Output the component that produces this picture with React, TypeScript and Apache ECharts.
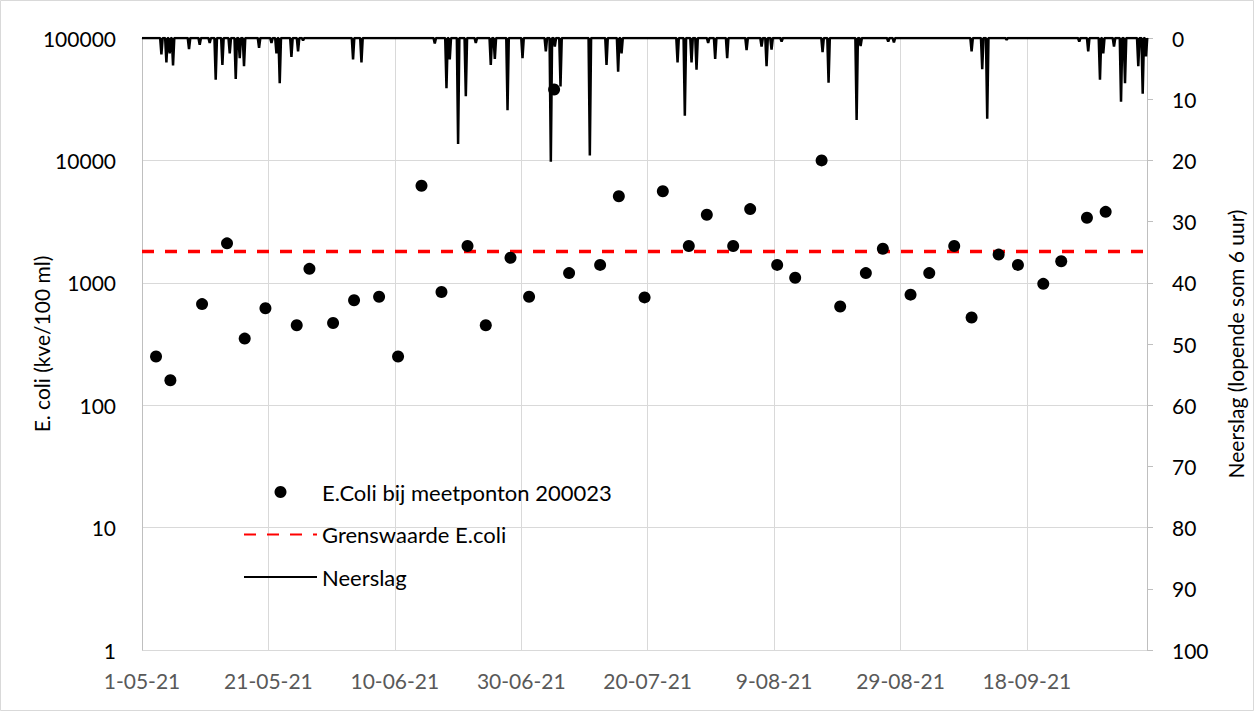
import React, { useEffect, useRef } from "react";
import * as echarts from "echarts";

// x values are days since 1-05-2021 (00:00)
const START_UTC = Date.UTC(2021, 4, 1);
const X_MAX_DAY = 159;
const X_TICK_DAYS = 20;

// E. coli measurements at meetponton 200023
const ecoliDay = [
  2.22, 4.49, 9.5, 13.45, 16.25, 19.53, 24.48, 26.49, 30.23, 33.55, 37.51,
  40.51, 44.22, 47.38, 51.5, 54.39, 58.3, 61.24, 65.2, 67.57, 72.48, 75.44,
  79.51, 82.4, 86.51, 89.36, 93.53, 96.22, 100.49, 103.34, 107.52, 110.46,
  114.52, 117.21, 121.59, 124.55, 128.5, 131.25, 135.53, 138.58, 142.59,
  145.43, 149.5, 152.46,
];
const ecoliValue = [
  250, 160, 670, 2100, 350, 620, 450, 1300, 470, 720, 770, 250, 6200, 840,
  2000, 450, 1600, 770, 38000, 1200, 1400, 5100, 760, 5600, 2000, 3600, 2000,
  4000, 1400, 1100, 10000, 640, 1200, 1900, 800, 1200, 2000, 520, 1700, 1400,
  980, 1500, 3400, 3800,
];

// limit value
const grensValue = 1800;

// precipitation peaks (6 h running sum, mm)
const rainDay = [
  3.07, 3.86, 4.38, 4.91, 7.44, 9.13, 10.71, 11.66, 12.72, 13.88, 14.83, 15.46,
  16.14, 18.52, 20.48, 21.27, 21.79, 23.64, 24.69, 25.48, 33.39, 34.72, 46.32,
  48.17, 48.69, 50.01, 51.23, 52.81, 55.18, 55.82, 57.83, 60.2, 63.89, 64.68,
  65.31, 66.21, 70.85, 73.49, 75.33, 75.87, 84.73, 85.88, 86.94, 87.73, 89.57,
  90.68, 92.58, 95.65, 98.02, 98.81, 99.6, 101.19, 107.67, 108.62, 113.06,
  113.69, 118.06, 118.96, 131.25, 132.93, 133.72, 136.79, 148.28, 149.7,
  151.56, 152.08, 153.78, 154.89, 155.52, 157.62, 158.32, 158.84,
];
const rainValue = [
  2.7, 4.0, 2.5, 4.5, 1.8, 1.1, 0.8, 6.8, 4.4, 2.5, 6.7, 3.3, 4.6, 1.6, 0.8,
  2.5, 7.4, 3.1, 2.2, 0.4, 3.5, 4.0, 0.9, 8.2, 3.5, 17.3, 9.5, 0.8, 4.4, 3.4,
  11.8, 3.3, 2.2, 20.2, 1.4, 7.9, 19.2, 4.4, 5.5, 2.5, 4.0, 12.7, 4.0, 5.2, 0.8,
  3.4, 3.3, 2.0, 1.4, 4.6, 1.9, 0.6, 2.3, 7.3, 13.4, 1.3, 0.6, 0.7, 2.2, 5.1,
  13.2, 0.3, 0.6, 2.2, 6.8, 2.5, 1.4, 10.4, 7.4, 4.6, 9.1, 3.0,
];

const FONT = "Lato, 'Noto Sans', sans-serif";

function dayLabel(v: number): string {
  const d = new Date(START_UTC + v * 86400000);
  const dd = d.getUTCDate();
  const mm = String(d.getUTCMonth() + 1).padStart(2, "0");
  const yy = String(d.getUTCFullYear()).slice(2);
  return `${dd}-${mm}-${yy}`;
}

function buildRain(): number[][] {
  const w = 0.2;
  const out: number[][] = [[0, 0]];
  rainDay.forEach((d, i) => {
    const last = out[out.length - 1][0];
    if (d - w > last) out.push([d - w, 0]);
    out.push([d, rainValue[i]]);
    const next = i + 1 < rainDay.length ? rainDay[i + 1] : X_MAX_DAY + 1;
    if (d + w < next - w) out.push([d + w, 0]);
  });
  out.push([X_MAX_DAY, 0]);
  return out;
}

export default function App() {
  const ref = useRef<HTMLDivElement>(null);
  useEffect(() => {
    if (!ref.current) return;
    const chart = echarts.init(ref.current, undefined, { renderer: "svg" });
    chart.setOption({
      animation: false,
      backgroundColor: "#ffffff",
      textStyle: { fontFamily: FONT },
      grid: { left: 142, right: 109, top: 38, bottom: 63, containLabel: false },
      legend: {
        orient: "vertical",
        left: 238,
        top: 476,
        itemWidth: 73,
        itemHeight: 12,
        itemGap: 20.5,
        textStyle: { fontSize: 22, color: "#000", fontFamily: FONT },
        data: [
          { name: "E.Coli bij meetponton 200023" },
          { name: "Grenswaarde E.coli", itemStyle: { opacity: 0 } },
          { name: "Neerslag", itemStyle: { opacity: 0 } },
        ],
      },
      xAxis: {
        type: "value",
        min: 0,
        max: X_MAX_DAY,
        interval: X_TICK_DAYS,
        axisLine: { show: true, lineStyle: { color: "#bfbfbf", width: 1 } },
        axisTick: { show: false },
        splitLine: { show: true, lineStyle: { color: "#d9d9d9", width: 1 } },
        axisLabel: {
          formatter: (v: number) => dayLabel(v),
          color: "#595959",
          fontSize: 21,
          fontFamily: FONT,
          margin: 20,
          showMaxLabel: false,
        },
      },
      yAxis: [
        {
          type: "log",
          logBase: 10,
          min: 1,
          max: 100000,
          position: "left",
          name: "E. coli (kve/100 ml)",
          nameLocation: "middle",
          nameGap: 90,
          nameMoveOverlap: false,
          nameTextStyle: { fontSize: 21, color: "#000", fontFamily: FONT },
          axisLine: { show: true, lineStyle: { color: "#bfbfbf", width: 1 } },
          axisTick: { show: false },
          splitLine: { show: true, lineStyle: { color: "#d9d9d9", width: 1 } },
          axisLabel: {
            color: "#000",
            fontSize: 21,
            fontFamily: FONT,
            margin: 26,
            formatter: (v: number) => String(Math.round(v)),
          },
        },
        {
          type: "value",
          inverse: true,
          min: 0,
          max: 100,
          interval: 10,
          position: "right",
          name: "Neerslag (lopende som 6 uur)",
          nameLocation: "middle",
          nameGap: 78,
          nameMoveOverlap: false,
          nameTextStyle: { fontSize: 21, color: "#000", fontFamily: FONT },
          axisLine: { show: true, lineStyle: { color: "#bfbfbf", width: 1 } },
          axisTick: { show: true, length: 6, lineStyle: { color: "#bfbfbf" } },
          splitLine: { show: false },
          axisLabel: { color: "#000", fontSize: 21, fontFamily: FONT, margin: 25 },
        },
      ],
      series: [
        {
          name: "Neerslag",
          type: "line",
          yAxisIndex: 1,
          data: buildRain(),
          symbol: "none",
          lineStyle: { color: "#000", width: 2.5 },
          itemStyle: { color: "#000" },
          z: 2,
        },
        {
          name: "Grenswaarde E.coli",
          type: "line",
          yAxisIndex: 0,
          data: [
            [0, grensValue],
            [X_MAX_DAY, grensValue],
          ],
          symbol: "none",
          lineStyle: { color: "#ff0000", width: 3.5, type: [12, 11] },
          itemStyle: { color: "#ff0000" },
          z: 3,
        },
        {
          name: "E.Coli bij meetponton 200023",
          type: "scatter",
          yAxisIndex: 0,
          data: ecoliDay.map((d, i) => [d, ecoliValue[i]]),
          symbol: "circle",
          symbolSize: 12,
          itemStyle: { color: "#000", opacity: 1 },
          z: 4,
        },
      ],
      graphic: [
        {
          type: "rect",
          shape: { x: 0.5, y: 0.5, width: 1253, height: 710 },
          style: { fill: "none", stroke: "#d9d9d9", lineWidth: 1 },
          silent: true,
        },
      ],
    });
    return () => chart.dispose();
  }, []);
  return (
    <div
      ref={ref}
      style={{ position: "fixed", left: 0, top: 0, width: 1256, height: 713, background: "#fff" }}
    />
  );
}
